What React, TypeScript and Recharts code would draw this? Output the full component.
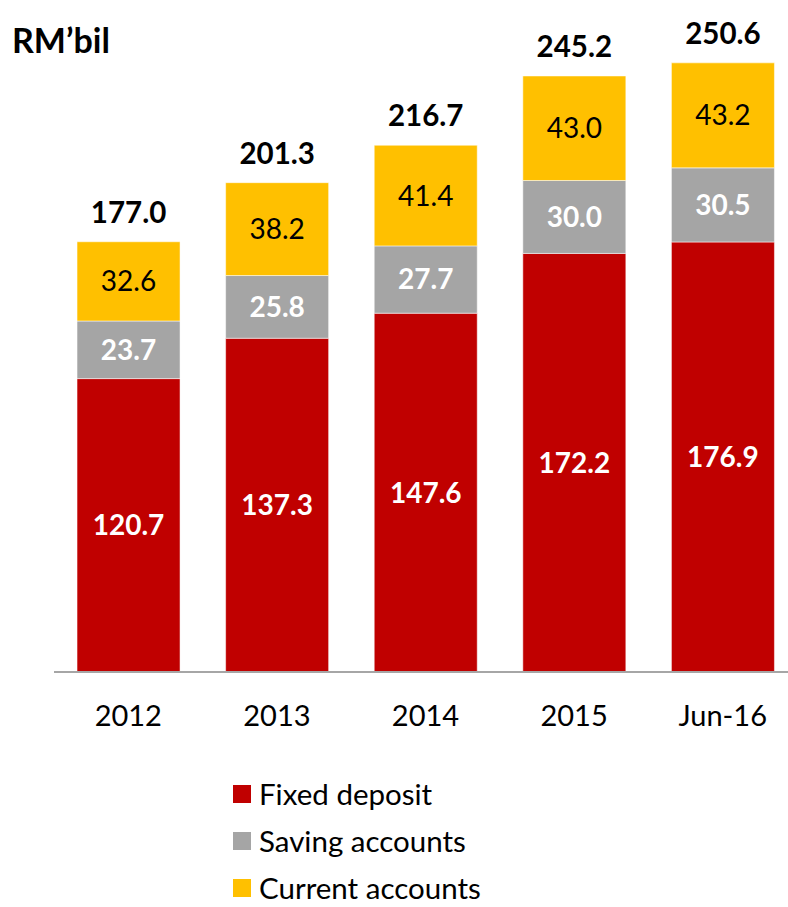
import React from 'react';
import { BarChart, Bar, XAxis, YAxis, LabelList, Legend } from 'recharts';

const categories = ['2012', '2013', '2014', '2015', 'Jun-16'];
const fixedDeposit = [120.7, 137.3, 147.6, 172.2, 176.9];
const savingAccounts = [23.7, 25.8, 27.7, 30.0, 30.5];
const currentAccounts = [32.6, 38.2, 41.4, 43.0, 43.2];
const totals = [177.0, 201.3, 216.7, 245.2, 250.6];

const seriesNames = ['Fixed deposit', 'Saving accounts', 'Current accounts'];
const colors = ['#C00000', '#A5A5A5', '#FFC000'];

const data = categories.map((c, i) => ({
  name: c,
  fixed: fixedDeposit[i],
  saving: savingAccounts[i],
  current: currentAccounts[i],
  total: totals[i],
}));

const FONT = 'Lato, "Open Sans", sans-serif';
const fmt = (v: any) => Number(v).toFixed(1);

const TotalLabel = (props: any) => {
  const { x, y, width, value } = props;
  return (
    <text
      x={Number(x) + Number(width) / 2}
      y={Number(y) - 19}
      textAnchor="middle"
      fontFamily={FONT}
      fontWeight={700}
      fontSize={29.5}
      fill="#000"
    >
      {fmt(value)}
    </text>
  );
};

const LegendContent = () => (
  <div style={{ fontFamily: FONT }}>
    {seriesNames.map((n, i) => (
      <div key={n} style={{ display: 'flex', alignItems: 'center', height: 26, marginBottom: i < seriesNames.length - 1 ? 21 : 0 }}>
        <div style={{ width: 18, height: 18, background: colors[i], marginRight: 8 }} />
        <span style={{ fontSize: 29.5, color: '#000', lineHeight: '26px', whiteSpace: 'nowrap' }}>{n}</span>
      </div>
    ))}
  </div>
);

export default function App() {
  return (
    <div style={{ position: 'absolute', left: 0, top: 0, width: 788, height: 907, overflow: 'hidden', background: '#fff' }}>
      <svg style={{ position: 'absolute', left: 0, top: 0 }} width={200} height={70}>
        <text x={12} y={53} fontFamily={FONT} fontWeight={700} fontSize={34} fill="#000">RM’bil</text>
      </svg>
      <BarChart
        width={800}
        height={907}
        data={data}
        margin={{ top: 40, right: 3, left: 54, bottom: 175 }}
        barCategoryGap="15.5%"
      >
        <XAxis
          dataKey="name"
          tickLine={false}
          axisLine={{ stroke: '#A6A6A6', strokeWidth: 2 }}
          tick={{ fontFamily: FONT, fontSize: 29, fill: '#000' }}
          tickMargin={27}
          height={60}
          interval={0}
        />
        <YAxis hide domain={[0, 260]} />
        <Legend
          layout="vertical"
          align="center"
          verticalAlign="middle"
          wrapperStyle={{ position: 'absolute', left: 233, top: 781, width: 320 }}
          content={<LegendContent />}
        />
        <Bar dataKey="fixed" name={seriesNames[0]} stackId="a" fill={colors[0]} stroke="#fff" strokeWidth={0.5} isAnimationActive={false}>
          <LabelList dataKey="fixed" position="center" formatter={fmt} fill="#fff" fontFamily={FONT} fontWeight={700} fontSize={28} />
        </Bar>
        <Bar dataKey="saving" name={seriesNames[1]} stackId="a" fill={colors[1]} stroke="#fff" strokeWidth={0.5} isAnimationActive={false}>
          <LabelList dataKey="saving" position="center" formatter={fmt} fill="#fff" fontFamily={FONT} fontWeight={700} fontSize={28} />
        </Bar>
        <Bar dataKey="current" name={seriesNames[2]} stackId="a" fill={colors[2]} stroke="#fff" strokeWidth={0.5} isAnimationActive={false}>
          <LabelList dataKey="current" position="center" formatter={fmt} fill="#000" fontFamily={FONT} fontWeight={400} fontSize={28} />
          <LabelList dataKey="total" content={<TotalLabel />} />
        </Bar>
      </BarChart>
    </div>
  );
}
